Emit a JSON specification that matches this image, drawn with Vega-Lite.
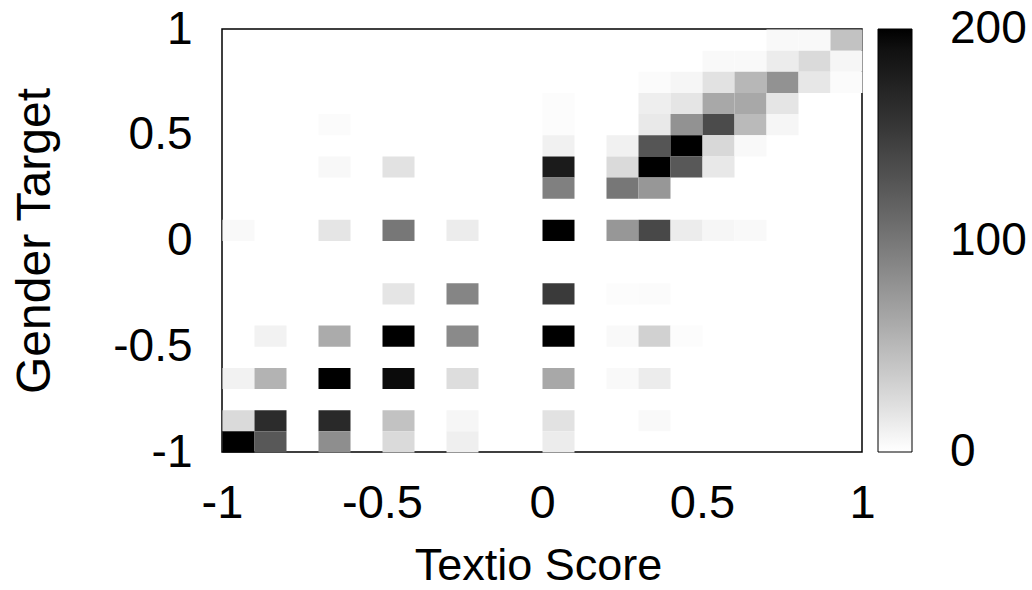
{
  "$schema": "https://vega.github.io/schema/vega-lite/v6.json",
  "width": 640,
  "height": 423,
  "autosize": {"type": "none"},
  "padding": {"left": 222, "top": 29, "right": 170, "bottom": 138},
  "background": "white",
  "config": {
    "font": "Liberation Sans",
    "view": {"stroke": "#000000", "strokeWidth": 1.5},
    "axis": {"labelColor": "#000000", "titleColor": "#000000", "titleFontWeight": "normal", "grid": false, "ticks": false, "domain": false},
    "legend": {"labelColor": "#000000"}
  },
  "data": {
    "values": [
      {"score": 0.7, "target": 0.9, "count": 4},
      {"score": 0.8, "target": 0.9, "count": 4},
      {"score": 0.9, "target": 0.9, "count": 43},
      {"score": 0.5, "target": 0.8, "count": 4},
      {"score": 0.6, "target": 0.8, "count": 4},
      {"score": 0.7, "target": 0.8, "count": 13},
      {"score": 0.8, "target": 0.8, "count": 26},
      {"score": 0.9, "target": 0.8, "count": 6},
      {"score": 0.3, "target": 0.7, "count": 3},
      {"score": 0.4, "target": 0.7, "count": 6},
      {"score": 0.5, "target": 0.7, "count": 20},
      {"score": 0.6, "target": 0.7, "count": 51},
      {"score": 0.7, "target": 0.7, "count": 79},
      {"score": 0.8, "target": 0.7, "count": 17},
      {"score": 0.9, "target": 0.7, "count": 3},
      {"score": 0.0, "target": 0.6, "count": 2},
      {"score": 0.3, "target": 0.6, "count": 12},
      {"score": 0.4, "target": 0.6, "count": 18},
      {"score": 0.5, "target": 0.6, "count": 62},
      {"score": 0.6, "target": 0.6, "count": 62},
      {"score": 0.7, "target": 0.6, "count": 18},
      {"score": -0.7, "target": 0.5, "count": 3},
      {"score": 0.0, "target": 0.5, "count": 2},
      {"score": 0.3, "target": 0.5, "count": 15},
      {"score": 0.4, "target": 0.5, "count": 79},
      {"score": 0.5, "target": 0.5, "count": 136},
      {"score": 0.6, "target": 0.5, "count": 49},
      {"score": 0.7, "target": 0.5, "count": 6},
      {"score": 0.0, "target": 0.4, "count": 10},
      {"score": 0.2, "target": 0.4, "count": 10},
      {"score": 0.3, "target": 0.4, "count": 128},
      {"score": 0.4, "target": 0.4, "count": 215},
      {"score": 0.5, "target": 0.4, "count": 27},
      {"score": 0.6, "target": 0.4, "count": 4},
      {"score": -0.7, "target": 0.3, "count": 5},
      {"score": -0.5, "target": 0.3, "count": 20},
      {"score": 0.0, "target": 0.3, "count": 180},
      {"score": 0.2, "target": 0.3, "count": 26},
      {"score": 0.3, "target": 0.3, "count": 220},
      {"score": 0.4, "target": 0.3, "count": 125},
      {"score": 0.5, "target": 0.3, "count": 16},
      {"score": 0.0, "target": 0.2, "count": 93},
      {"score": 0.2, "target": 0.2, "count": 100},
      {"score": 0.3, "target": 0.2, "count": 75},
      {"score": -1.0, "target": 0.0, "count": 4},
      {"score": -0.7, "target": 0.0, "count": 18},
      {"score": -0.5, "target": 0.0, "count": 100},
      {"score": -0.3, "target": 0.0, "count": 13},
      {"score": 0.0, "target": 0.0, "count": 230},
      {"score": 0.2, "target": 0.0, "count": 75},
      {"score": 0.3, "target": 0.0, "count": 139},
      {"score": 0.4, "target": 0.0, "count": 13},
      {"score": 0.5, "target": 0.0, "count": 6},
      {"score": 0.6, "target": 0.0, "count": 4},
      {"score": -0.5, "target": -0.3, "count": 18},
      {"score": -0.3, "target": -0.3, "count": 89},
      {"score": 0.0, "target": -0.3, "count": 151},
      {"score": 0.2, "target": -0.3, "count": 2},
      {"score": 0.3, "target": -0.3, "count": 3},
      {"score": -0.9, "target": -0.5, "count": 9},
      {"score": -0.7, "target": -0.5, "count": 60},
      {"score": -0.5, "target": -0.5, "count": 210},
      {"score": -0.3, "target": -0.5, "count": 85},
      {"score": 0.0, "target": -0.5, "count": 225},
      {"score": 0.2, "target": -0.5, "count": 4},
      {"score": 0.3, "target": -0.5, "count": 32},
      {"score": 0.4, "target": -0.5, "count": 2},
      {"score": -1.0, "target": -0.7, "count": 9},
      {"score": -0.9, "target": -0.7, "count": 54},
      {"score": -0.7, "target": -0.7, "count": 205},
      {"score": -0.5, "target": -0.7, "count": 194},
      {"score": -0.3, "target": -0.7, "count": 24},
      {"score": 0.0, "target": -0.7, "count": 62},
      {"score": 0.2, "target": -0.7, "count": 4},
      {"score": 0.3, "target": -0.7, "count": 13},
      {"score": -1.0, "target": -0.9, "count": 26},
      {"score": -0.9, "target": -0.9, "count": 164},
      {"score": -0.7, "target": -0.9, "count": 167},
      {"score": -0.5, "target": -0.9, "count": 43},
      {"score": -0.3, "target": -0.9, "count": 6},
      {"score": 0.0, "target": -0.9, "count": 20},
      {"score": 0.3, "target": -0.9, "count": 4},
      {"score": -1.0, "target": -1.0, "count": 240},
      {"score": -0.9, "target": -1.0, "count": 125},
      {"score": -0.7, "target": -1.0, "count": 82},
      {"score": -0.5, "target": -1.0, "count": 26},
      {"score": -0.3, "target": -1.0, "count": 11},
      {"score": 0.0, "target": -1.0, "count": 13}
    ]
  },
  "mark": {"type": "rect"},
  "encoding": {
    "x": {
      "field": "score",
      "type": "quantitative",
      "bin": {"binned": true, "step": 0.1},
      "scale": {"domain": [-1, 1], "nice": false, "zero": false},
      "axis": {
        "values": [-1, -0.5, 0, 0.5, 1],
        "labelExpr": "'' + datum.value",
        "title": "Textio Score",
        "labelFontSize": 47,
        "labelPadding": 28,
        "labelFlush": false,
        "labelOverlap": false,
        "titleFontSize": 45,
        "titleBaseline": "alphabetic",
        "titleX": 316,
        "titleY": 127.5
      }
    },
    "y": {
      "field": "target",
      "type": "quantitative",
      "bin": {"binned": true, "step": 0.1},
      "scale": {"domain": [-1, 1], "nice": false, "zero": false},
      "axis": {
        "values": [-1, -0.5, 0, 0.5, 1],
        "labelExpr": "'' + datum.value",
        "title": "Gender Target",
        "labelFontSize": 46,
        "labelPadding": 30,
        "labelFlush": false,
        "labelOverlap": false,
        "titleFontSize": 48,
        "titleAngle": -90,
        "titleBaseline": "alphabetic",
        "titleAlign": "center",
        "titleX": -173,
        "titleY": 211.5
      }
    },
    "color": {
      "field": "count",
      "type": "quantitative",
      "scale": {"domain": [0, 200], "range": ["#ffffff", "#000000"], "clamp": true, "nice": false, "zero": false},
      "legend": {
        "orient": "none",
        "legendX": 656,
        "legendY": 0,
        "direction": "vertical",
        "title": null,
        "padding": 0,
        "gradientLength": 423,
        "gradientThickness": 34,
        "gradientStrokeColor": "#000000",
        "gradientStrokeWidth": 1,
        "values": [0, 100, 200],
        "labelFontSize": 46,
        "labelOffset": 38,
        "labelOverlap": false,
        "encode": {
          "labels": {"update": {"baseline": {"value": "middle"}}}
        }
      }
    }
  }
}
